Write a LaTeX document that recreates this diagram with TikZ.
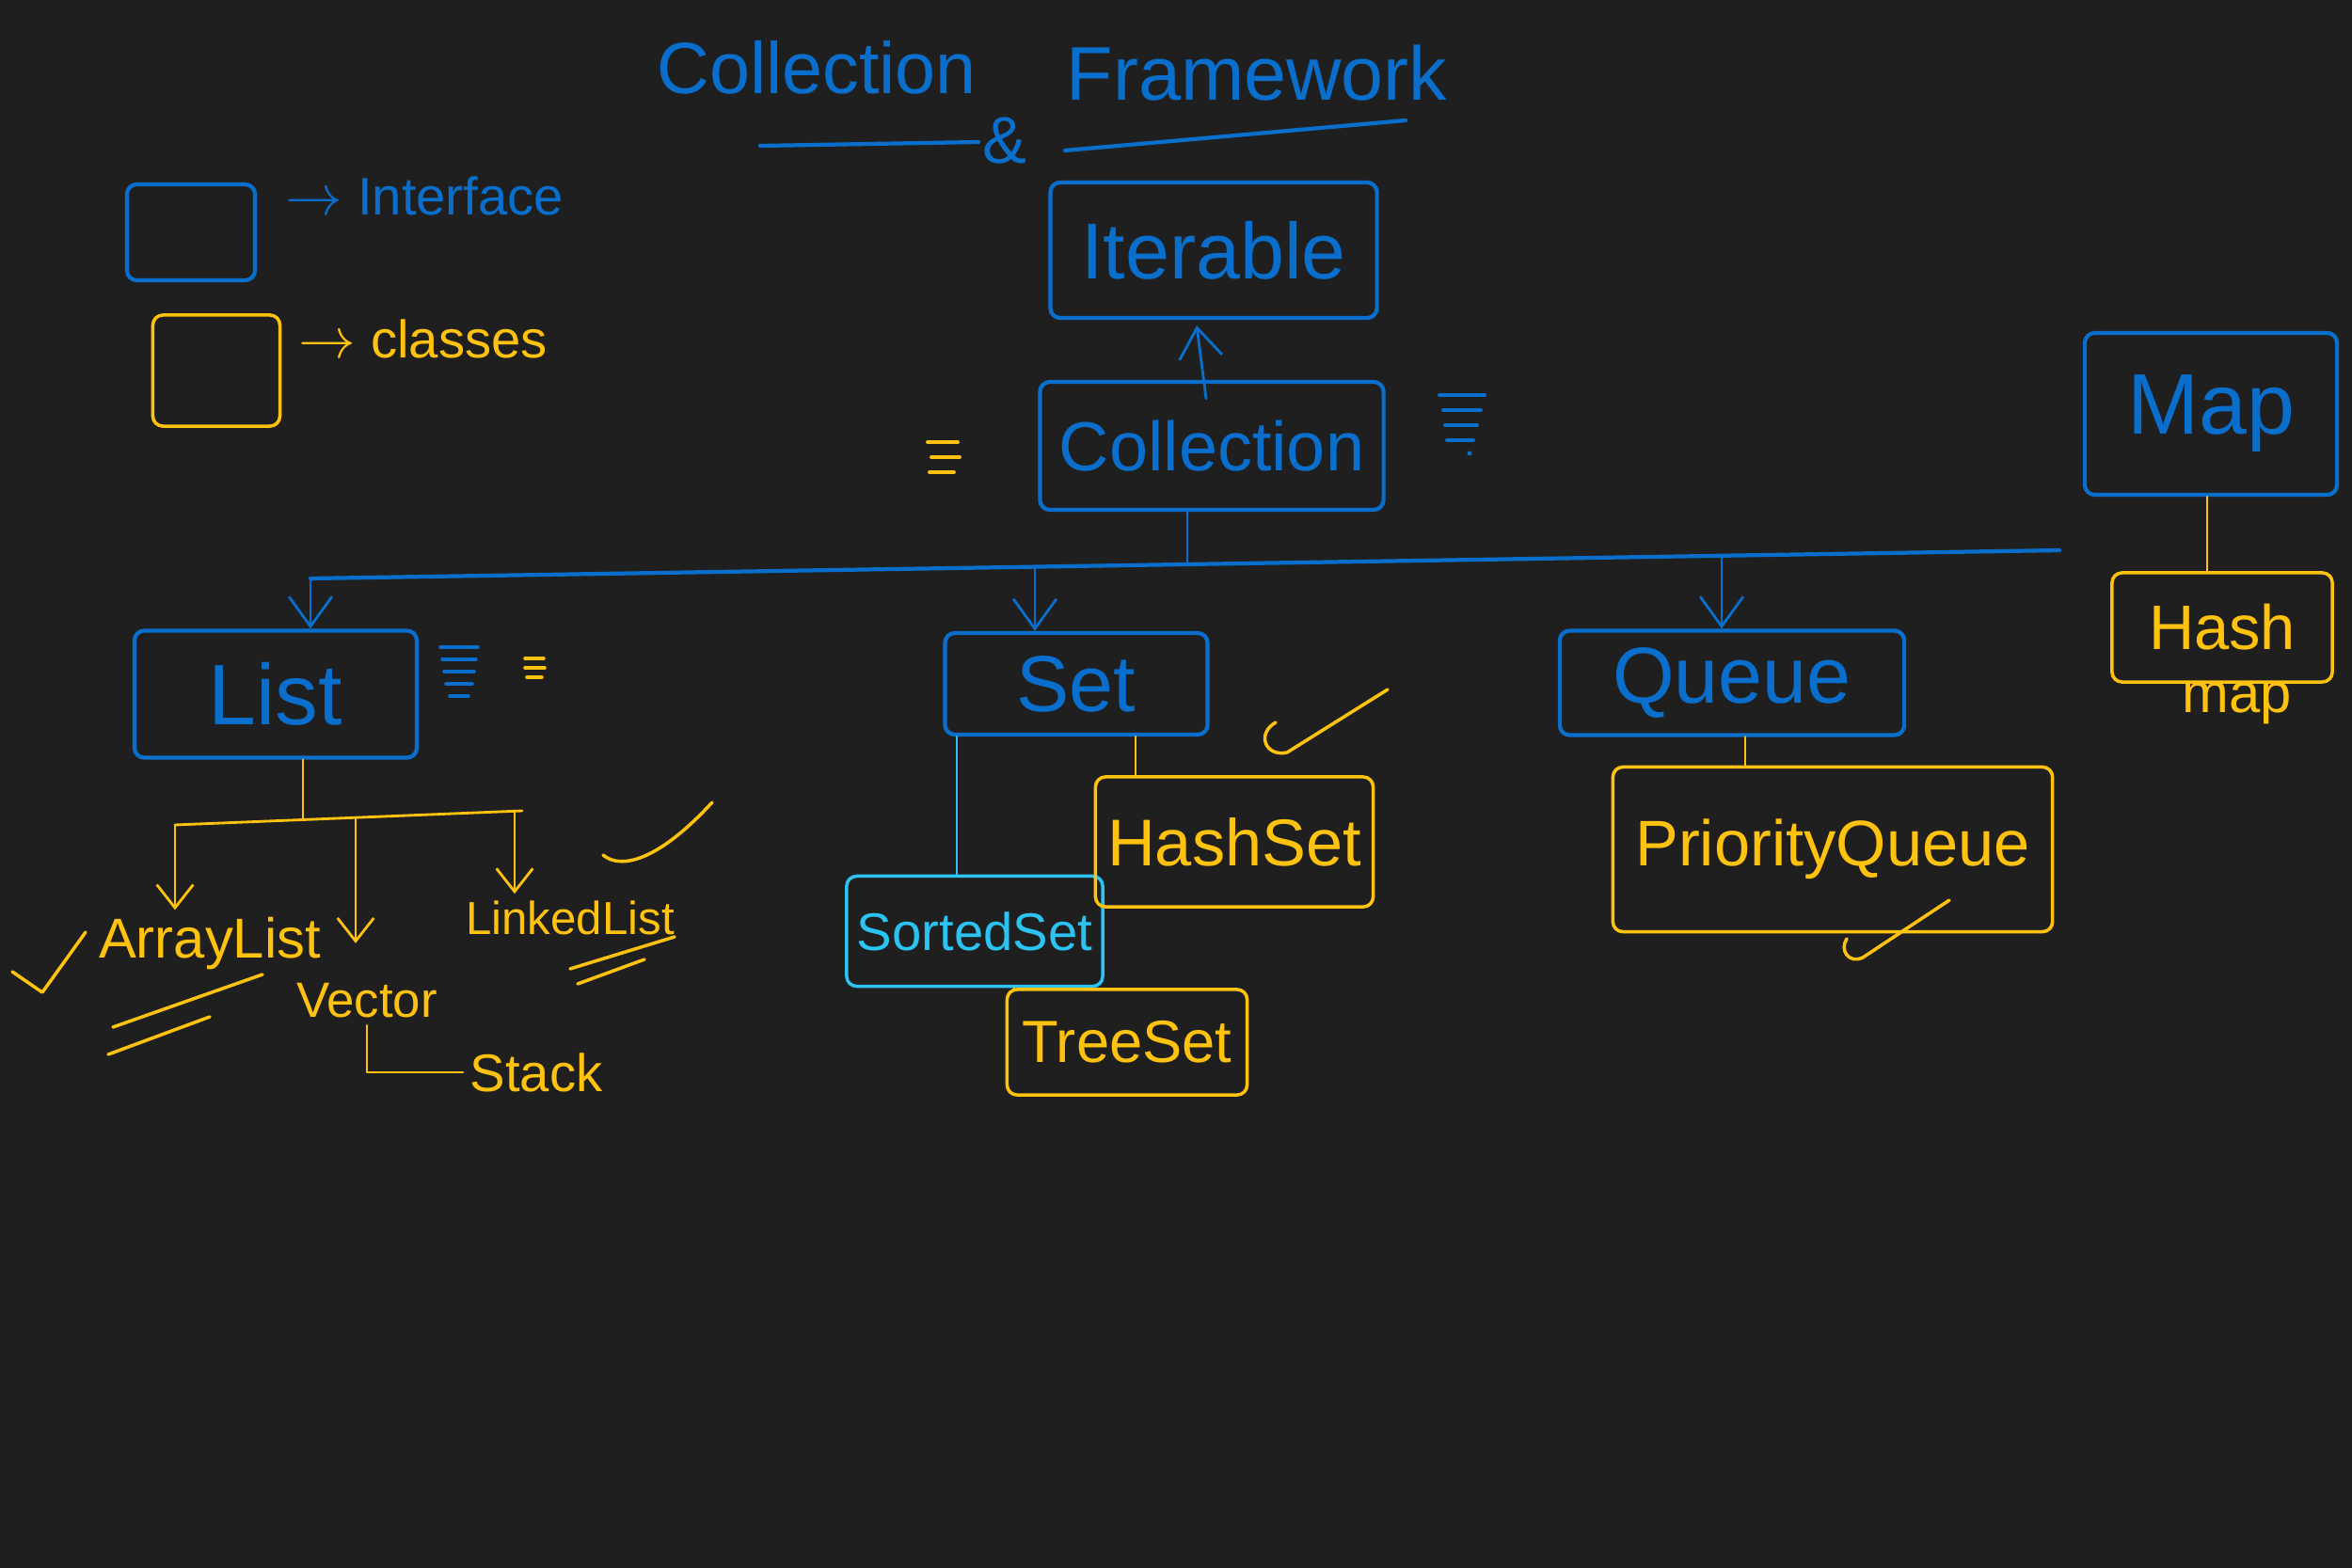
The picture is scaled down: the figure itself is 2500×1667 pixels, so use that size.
\documentclass[tikz,border=0pt]{standalone}
\usepackage{fontspec}
\setmainfont{Liberation Sans}
\usetikzlibrary{arrows.meta,calc}
\definecolor{bg}{HTML}{1F1F1F}
\definecolor{iblue}{HTML}{0A6FCC}
\definecolor{cyel}{HTML}{FFC20E}
\definecolor{icyan}{HTML}{2BC4F2}
\newcommand{\fsz}[1]{\fontsize{#1}{#1}\selectfont}
\begin{document}
\begin{tikzpicture}[x=0.01cm,y=-0.01cm,
  ibox/.style={draw=iblue,line width=1.2pt,text=iblue,rounded corners=3pt,inner sep=0pt},
  kbox/.style={draw=cyel,line width=1pt,text=cyel,rounded corners=3pt,inner sep=0pt},
  sbox/.style={draw=icyan,line width=1pt,text=icyan,rounded corners=3pt,inner sep=0pt},
  ktext/.style={text=cyel,inner sep=2pt},
  itext/.style={text=iblue,inner sep=2pt},
  bline/.style={draw=iblue,line width=0.8pt,line cap=round},
  bthick/.style={draw=iblue,line width=1.2pt,line cap=round},
  kline/.style={draw=cyel,line width=0.8pt,line cap=round,line join=round},
  cline/.style={draw=icyan,line width=0.8pt,line cap=round},
  barb/.style={-{Straight Barb[length=9pt,width=13pt]}},
  kbarb/.style={-{Straight Barb[length=7pt,width=11pt]}}
]
\fill[bg] (0,0) rectangle (2500,1667);
\useasboundingbox (0,0) rectangle (2500,1667);

% title
\node[itext] (t1) at (868,72) {\fsz{22}Collection};
\node[itext] (t2) at (1336,78) {\fsz{23}Framework};
\coordinate (u1a) at (808,155); \coordinate (u1b) at (1040,151);
\coordinate (u2a) at (1132,160); \coordinate (u2b) at (1494,128);
\draw[bthick] (u1a) -- (u1b);
\node[itext] (amp) at (1068,150) {\fsz{20}\&};
\draw[bthick] (u2a) -- (u2b);

% legend
\node[ibox,minimum width=1.36cm,minimum height=1.02cm] (lgi) at (203,247) {};
\node[itext,anchor=west] (lgit) at (296,208) {\fsz{16}$\rightarrow$ Interface};
\node[kbox,minimum width=1.35cm,minimum height=1.18cm] (lgc) at (230,394) {};
\node[ktext,anchor=west] (lgct) at (310,360) {\fsz{16}$\rightarrow$ classes};

% interfaces
\node[ibox,minimum width=3.47cm,minimum height=1.44cm] (iterable) at (1290,266) {\fsz{24}Iterable};
\node[ibox,minimum width=3.65cm,minimum height=1.36cm] (collection) at (1288,474) {\fsz{21}Collection};
\node[ibox,minimum width=2.68cm,minimum height=1.72cm] (map) at (2350,440) {\fsz{26}Map};
\node[ibox,minimum width=3.0cm,minimum height=1.35cm] (list) at (293,738) {\fsz{26}List};
\node[ibox,minimum width=2.79cm,minimum height=1.08cm] (set) at (1144,727) {\fsz{24}Set};
\node[ibox,minimum width=3.66cm,minimum height=1.11cm] (queue) at (1841,726) {\fsz{24}Queue};
\node[sbox,minimum width=2.72cm,minimum height=1.17cm] (sortedset) at (1036,990) {\fsz{16}SortedSet};

% classes
\node[kbox,minimum width=2.34cm,minimum height=1.16cm] (hashmap) at (2362,667) {\fsz{19}Hash};
\node[ktext] (maplbl) at (2378,748) {\fsz{17}map};
\node[kbox,minimum width=2.95cm,minimum height=1.38cm] (hashset) at (1312,895) {\fsz{20}HashSet};
\node[kbox,minimum width=2.55cm,minimum height=1.12cm] (treeset) at (1198,1108) {\fsz{18}TreeSet};
\node[kbox,minimum width=4.67cm,minimum height=1.75cm] (pq) at (1948,903) {\fsz{19.5}PriorityQueue};
\node[ktext] (arraylist) at (223,1003) {\fsz{17}ArrayList};
\node[ktext] (vector) at (390,1064) {\fsz{15}Vector};
\node[ktext] (linkedlist) at (606,976) {\fsz{14}LinkedList};
\node[ktext] (stack) at (570,1140) {\fsz{16}Stack};

% Collection -> Iterable
\draw[bline,barb] ($(collection.north)+(-6,20)$) -- ($(iterable.south)+(-18,6)$);

% blue bus
\coordinate (bList) at (330,615);
\coordinate (bSet) at (1100,603);
\coordinate (bColl) at (1262,600);
\coordinate (bQueue) at (1830,591);
\coordinate (bEnd) at (2189,585);
\draw[bthick] (bList) -- (bEnd);
\draw[bline] (bColl |- collection.south) -- (bColl);
\draw[bline,barb] (bList) -- (bList |- list.north);
\draw[bline,barb] (bSet) -- (bSet |- set.north);
\draw[bline,barb] (bQueue) -- (bQueue |- queue.north);

% Map -> HashMap
\coordinate (xm) at (2346,0);
\draw[kline] (xm |- map.south) -- (xm |- hashmap.north);

% List -> classes
\coordinate (yL) at (322,871);
\coordinate (ya) at (186,877);
\coordinate (yv) at (378,869);
\coordinate (yk) at (547,862);
\coordinate (yEnd) at (555,862);
\draw[kline] (yL |- list.south) -- (yL);
\draw[kline] (ya) -- (yEnd);
\draw[kline,kbarb] (ya) -- (ya |- arraylist.north);
\draw[kline,kbarb,shorten >=0.35cm] (yv) -- (yv |- vector.north);
\draw[kline,kbarb] (yk) -- (yk |- linkedlist.north);
\draw[kline] (vector.south) |- (stack.west);

% Set -> SortedSet, HashSet
\coordinate (xs) at (1017,0);
\coordinate (xh) at (1207,0);
\coordinate (xt) at (1078,0);
\coordinate (xq) at (1855,0);
\draw[cline] (xs |- set.south) -- (xs |- sortedset.north);
\draw[kline] (xh |- set.south) -- (xh |- hashset.north);
\draw[kline] (xt |- sortedset.south) -- (xt |- treeset.north);
\draw[kline] (xq |- queue.south) -- (xq |- pq.north);

% check marks
\draw[kline,line width=1pt] (13,1033) -- (45,1055) -- (91,991);
\draw[kline,line width=1pt] (641,909) .. controls (660,925) and (700,915) .. (757,853);
\draw[kline,line width=1pt] (1356,768) .. controls (1335,780) and (1345,805) .. (1368,800) -- (1475,733);
\draw[kline,line width=1pt] (1963,998) .. controls (1955,1010) and (1965,1025) .. (1980,1018) -- (2072,957);

% underlines
\draw[kline,line width=1pt] (120,1092) -- (279,1036);
\draw[kline,line width=1pt] (115,1121) -- (223,1081);
\draw[kline,line width=1pt] (606,1030) -- (717,996);
\draw[kline,line width=1pt] (614,1046) -- (685,1020);

% note marks
\foreach \yy/\xa/\xb in {470/986/1018,486/990/1020,502/988/1014}
  \draw[kline,line width=1.1pt] (\xa,\yy) -- (\xb,\yy);
\foreach \yy/\xa/\xb in {420/1530/1578,436/1534/1574,452/1536/1570,468/1538/1566}
  \draw[bline,line width=1.1pt] (\xa,\yy) -- (\xb,\yy);
\fill[iblue] (1562,482) circle (2.5);
\foreach \yy/\xa/\xb in {688/468/508,701/470/506,714/472/504,727/474/502,740/478/498}
  \draw[bline,line width=1pt] (\xa,\yy) -- (\xb,\yy);
\foreach \yy/\xa/\xb in {700/558/578,710/558/579,720/560/576}
  \draw[kline,line width=1pt] (\xa,\yy) -- (\xb,\yy);
\end{tikzpicture}
\end{document}
